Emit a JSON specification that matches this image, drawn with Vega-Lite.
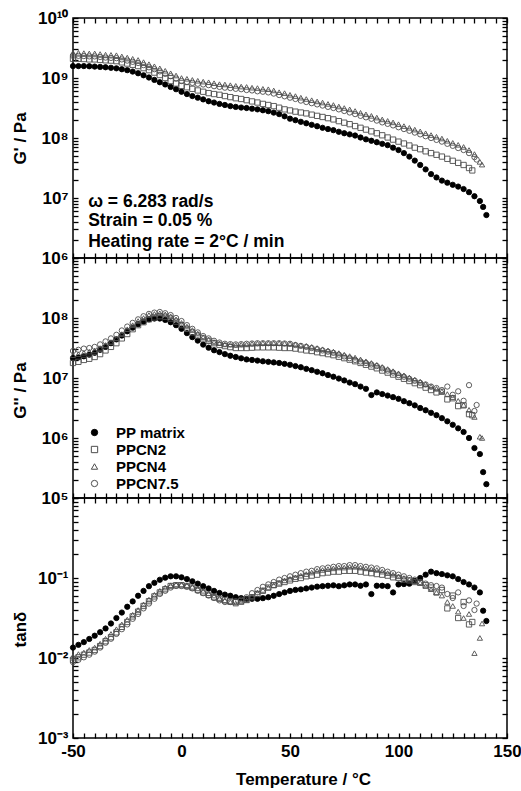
{
"$schema": "https://vega.github.io/schema/vega-lite/v6.json",
"padding": {"left": 10, "top": 8, "right": 5, "bottom": 5},
"background": "white",
"config": {
  "font": "Liberation Sans",
  "view": {"stroke": "black", "strokeWidth": 1.5},
  "axis": {"domain": false, "offset": -5, "ticks": true, "tickSize": 5, "tickColor": "black", "tickWidth": 1.3, "labelPadding": 5, "labelColor": "black", "titleColor": "black", "labelFont": "Liberation Sans", "titleFont": "Liberation Sans", "labelFontWeight": "bold", "titleFontWeight": "bold", "labelFontSize": 17, "titleFontSize": 17, "grid": false, "labelOverlap": false, "labelFlush": false, "labelBound": false}
},
"datasets": {
"ann": [
 {"T": -43, "v": 8.6e6, "t": "ω = 6.283 rad/s"},
 {"T": -43, "v": 4.1e6, "t": "Strain = 0.05 %"},
 {"T": -43, "v": 1.85e6, "t": "Heating rate = 2°C / min"}
],
"d": [
{"s":"PP matrix","T":-50,"gp":1.58e9,"gpp":2.14e7,"td":0.0135},
{"s":"PP matrix","T":-47.5,"gp":1.58e9,"gpp":2.2e7,"td":0.0146},
{"s":"PP matrix","T":-45,"gp":1.58e9,"gpp":2.3e7,"td":0.0158},
{"s":"PP matrix","T":-42.5,"gp":1.57e9,"gpp":2.45e7,"td":0.0173},
{"s":"PP matrix","T":-40,"gp":1.55e9,"gpp":2.63e7,"td":0.019},
{"s":"PP matrix","T":-37.5,"gp":1.53e9,"gpp":2.95e7,"td":0.021},
{"s":"PP matrix","T":-35,"gp":1.51e9,"gpp":3.3e7,"td":0.0234},
{"s":"PP matrix","T":-32.5,"gp":1.48e9,"gpp":3.8e7,"td":0.027},
{"s":"PP matrix","T":-30,"gp":1.45e9,"gpp":4.4e7,"td":0.0316},
{"s":"PP matrix","T":-27.5,"gp":1.4e9,"gpp":5.1e7,"td":0.037},
{"s":"PP matrix","T":-25,"gp":1.35e9,"gpp":6.0e7,"td":0.0437},
{"s":"PP matrix","T":-22.5,"gp":1.28e9,"gpp":6.9e7,"td":0.051},
{"s":"PP matrix","T":-20,"gp":1.2e9,"gpp":7.9e7,"td":0.060},
{"s":"PP matrix","T":-17.5,"gp":1.11e9,"gpp":8.7e7,"td":0.069},
{"s":"PP matrix","T":-15,"gp":1.02e9,"gpp":9.5e7,"td":0.079},
{"s":"PP matrix","T":-12.5,"gp":9.3e8,"gpp":9.8e7,"td":0.087},
{"s":"PP matrix","T":-10,"gp":8.5e8,"gpp":9.8e7,"td":0.095},
{"s":"PP matrix","T":-7.5,"gp":7.8e8,"gpp":9.3e7,"td":0.101},
{"s":"PP matrix","T":-5,"gp":7.1e8,"gpp":8.5e7,"td":0.105},
{"s":"PP matrix","T":-2.5,"gp":6.5e8,"gpp":7.6e7,"td":0.105},
{"s":"PP matrix","T":0,"gp":5.9e8,"gpp":6.6e7,"td":0.102},
{"s":"PP matrix","T":2.5,"gp":5.4e8,"gpp":5.6e7,"td":0.097},
{"s":"PP matrix","T":5,"gp":5.0e8,"gpp":4.8e7,"td":0.091},
{"s":"PP matrix","T":7.5,"gp":4.7e8,"gpp":4.2e7,"td":0.085},
{"s":"PP matrix","T":10,"gp":4.4e8,"gpp":3.6e7,"td":0.079},
{"s":"PP matrix","T":12.5,"gp":4.1e8,"gpp":3.2e7,"td":0.074},
{"s":"PP matrix","T":15,"gp":3.9e8,"gpp":2.9e7,"td":0.069},
{"s":"PP matrix","T":17.5,"gp":3.7e8,"gpp":2.7e7,"td":0.065},
{"s":"PP matrix","T":20,"gp":3.55e8,"gpp":2.5e7,"td":0.062},
{"s":"PP matrix","T":22.5,"gp":3.4e8,"gpp":2.35e7,"td":0.060},
{"s":"PP matrix","T":25,"gp":3.3e8,"gpp":2.24e7,"td":0.0575},
{"s":"PP matrix","T":27.5,"gp":3.22e8,"gpp":2.13e7,"td":0.056},
{"s":"PP matrix","T":30,"gp":3.16e8,"gpp":2.04e7,"td":0.055},
{"s":"PP matrix","T":32.5,"gp":3.08e8,"gpp":2.0e7,"td":0.055},
{"s":"PP matrix","T":35,"gp":3.0e8,"gpp":1.95e7,"td":0.055},
{"s":"PP matrix","T":37.5,"gp":2.9e8,"gpp":1.9e7,"td":0.056},
{"s":"PP matrix","T":40,"gp":2.8e8,"gpp":1.86e7,"td":0.0575},
{"s":"PP matrix","T":42.5,"gp":2.65e8,"gpp":1.82e7,"td":0.060},
{"s":"PP matrix","T":45,"gp":2.5e8,"gpp":1.78e7,"td":0.063},
{"s":"PP matrix","T":47.5,"gp":2.3e8,"gpp":1.72e7,"td":0.066},
{"s":"PP matrix","T":50,"gp":2.1e8,"gpp":1.66e7,"td":0.069},
{"s":"PP matrix","T":52.5,"gp":1.98e8,"gpp":1.58e7,"td":0.071},
{"s":"PP matrix","T":55,"gp":1.86e8,"gpp":1.51e7,"td":0.072},
{"s":"PP matrix","T":57.5,"gp":1.76e8,"gpp":1.42e7,"td":0.074},
{"s":"PP matrix","T":60,"gp":1.66e8,"gpp":1.35e7,"td":0.076},
{"s":"PP matrix","T":62.5,"gp":1.57e8,"gpp":1.27e7,"td":0.078},
{"s":"PP matrix","T":65,"gp":1.48e8,"gpp":1.2e7,"td":0.079},
{"s":"PP matrix","T":67.5,"gp":1.41e8,"gpp":1.12e7,"td":0.080},
{"s":"PP matrix","T":70,"gp":1.35e8,"gpp":1.05e7,"td":0.081},
{"s":"PP matrix","T":72.5,"gp":1.27e8,"gpp":9.8e6,"td":0.079},
{"s":"PP matrix","T":75,"gp":1.2e8,"gpp":9.1e6,"td":0.081},
{"s":"PP matrix","T":77.5,"gp":1.15e8,"gpp":8.4e6,"td":0.083},
{"s":"PP matrix","T":80,"gp":1.1e8,"gpp":7.9e6,"td":0.083},
{"s":"PP matrix","T":82.5,"gp":1.02e8,"gpp":7.2e6,"td":0.080},
{"s":"PP matrix","T":85,"gp":9.5e7,"gpp":6.6e6,"td":0.083},
{"s":"PP matrix","T":87.5,"gp":9.0e7,"gpp":5.2e6,"td":0.063},
{"s":"PP matrix","T":90,"gp":8.5e7,"gpp":5.75e6,"td":0.080},
{"s":"PP matrix","T":92.5,"gp":8.0e7,"gpp":5.4e6,"td":0.080},
{"s":"PP matrix","T":95,"gp":7.6e7,"gpp":5.1e6,"td":0.079},
{"s":"PP matrix","T":97.5,"gp":6.9e7,"gpp":4.8e6,"td":0.066},
{"s":"PP matrix","T":100,"gp":6.3e7,"gpp":4.5e6,"td":0.083},
{"s":"PP matrix","T":102.5,"gp":5.6e7,"gpp":4.1e6,"td":0.084},
{"s":"PP matrix","T":105,"gp":4.9e7,"gpp":3.8e6,"td":0.085},
{"s":"PP matrix","T":107.5,"gp":4.2e7,"gpp":3.5e6,"td":0.092},
{"s":"PP matrix","T":110,"gp":3.55e7,"gpp":3.16e6,"td":0.100},
{"s":"PP matrix","T":112.5,"gp":3.0e7,"gpp":2.9e6,"td":0.110},
{"s":"PP matrix","T":115,"gp":2.5e7,"gpp":2.63e6,"td":0.120},
{"s":"PP matrix","T":117.5,"gp":2.2e7,"gpp":2.4e6,"td":0.115},
{"s":"PP matrix","T":120,"gp":1.95e7,"gpp":2.14e6,"td":0.112},
{"s":"PP matrix","T":122.5,"gp":1.8e7,"gpp":1.9e6,"td":0.108},
{"s":"PP matrix","T":125,"gp":1.66e7,"gpp":1.66e6,"td":0.105},
{"s":"PP matrix","T":127.5,"gp":1.55e7,"gpp":1.45e6,"td":0.097},
{"s":"PP matrix","T":130,"gp":1.41e7,"gpp":1.26e6,"td":0.089},
{"s":"PP matrix","T":132.5,"gp":1.25e7,"gpp":1.0e6,"td":0.083},
{"s":"PP matrix","T":135,"gp":1.07e7,"gpp":6.8e5,"td":0.076},
{"s":"PP matrix","T":137.5,"gp":8.9e6,"gpp":5.4e5,"td":0.066},
{"s":"PP matrix","T":139,"gp":7.1e6,"gpp":2.7e5,"td":0.039},
{"s":"PP matrix","T":140.5,"gp":5.2e6,"gpp":1.7e5,"td":0.029},
{"s":"PPCN2","T":-50,"gp":2.09e9,"gpp":1.78e7,"td":0.0095},
{"s":"PPCN2","T":-47.5,"gp":2.09e9,"gpp":1.86e7,"td":0.0102},
{"s":"PPCN2","T":-45,"gp":2.07e9,"gpp":2.0e7,"td":0.011},
{"s":"PPCN2","T":-42.5,"gp":2.04e9,"gpp":2.09e7,"td":0.0117},
{"s":"PPCN2","T":-40,"gp":2.04e9,"gpp":2.24e7,"td":0.0126},
{"s":"PPCN2","T":-37.5,"gp":2.0e9,"gpp":2.5e7,"td":0.0141},
{"s":"PPCN2","T":-35,"gp":1.97e9,"gpp":2.88e7,"td":0.0162},
{"s":"PPCN2","T":-32.5,"gp":1.95e9,"gpp":3.3e7,"td":0.0182},
{"s":"PPCN2","T":-30,"gp":1.91e9,"gpp":3.8e7,"td":0.0209},
{"s":"PPCN2","T":-27.5,"gp":1.82e9,"gpp":4.57e7,"td":0.0245},
{"s":"PPCN2","T":-25,"gp":1.74e9,"gpp":5.4e7,"td":0.0282},
{"s":"PPCN2","T":-22.5,"gp":1.66e9,"gpp":6.5e7,"td":0.0331},
{"s":"PPCN2","T":-20,"gp":1.58e9,"gpp":7.6e7,"td":0.038},
{"s":"PPCN2","T":-17.5,"gp":1.46e9,"gpp":8.5e7,"td":0.0447},
{"s":"PPCN2","T":-15,"gp":1.35e9,"gpp":9.5e7,"td":0.0513},
{"s":"PPCN2","T":-12.5,"gp":1.23e9,"gpp":1.02e8,"td":0.0589},
{"s":"PPCN2","T":-10,"gp":1.12e9,"gpp":1.07e8,"td":0.066},
{"s":"PPCN2","T":-7.5,"gp":1.0e9,"gpp":1.05e8,"td":0.0724},
{"s":"PPCN2","T":-5,"gp":8.9e8,"gpp":9.8e7,"td":0.0794},
{"s":"PPCN2","T":-2.5,"gp":8.1e8,"gpp":8.7e7,"td":0.0813},
{"s":"PPCN2","T":0,"gp":7.4e8,"gpp":7.6e7,"td":0.0813},
{"s":"PPCN2","T":2.5,"gp":7.0e8,"gpp":6.6e7,"td":0.0794},
{"s":"PPCN2","T":5,"gp":6.6e8,"gpp":5.75e7,"td":0.0759},
{"s":"PPCN2","T":7.5,"gp":6.2e8,"gpp":5.1e7,"td":0.0708},
{"s":"PPCN2","T":10,"gp":5.9e8,"gpp":4.57e7,"td":0.066},
{"s":"PPCN2","T":12.5,"gp":5.6e8,"gpp":4.17e7,"td":0.0617},
{"s":"PPCN2","T":15,"gp":5.4e8,"gpp":3.8e7,"td":0.0575},
{"s":"PPCN2","T":17.5,"gp":5.25e8,"gpp":3.55e7,"td":0.055},
{"s":"PPCN2","T":20,"gp":5.0e8,"gpp":3.4e7,"td":0.0525},
{"s":"PPCN2","T":22.5,"gp":4.8e8,"gpp":3.27e7,"td":0.0513},
{"s":"PPCN2","T":25,"gp":4.6e8,"gpp":3.16e7,"td":0.0501},
{"s":"PPCN2","T":27.5,"gp":4.47e8,"gpp":3.16e7,"td":0.0513},
{"s":"PPCN2","T":30,"gp":4.27e8,"gpp":3.16e7,"td":0.0537},
{"s":"PPCN2","T":32.5,"gp":4.07e8,"gpp":3.2e7,"td":0.0575},
{"s":"PPCN2","T":35,"gp":3.9e8,"gpp":3.24e7,"td":0.0631},
{"s":"PPCN2","T":37.5,"gp":3.7e8,"gpp":3.24e7,"td":0.0692},
{"s":"PPCN2","T":40,"gp":3.55e8,"gpp":3.24e7,"td":0.0759},
{"s":"PPCN2","T":42.5,"gp":3.4e8,"gpp":3.24e7,"td":0.0813},
{"s":"PPCN2","T":45,"gp":3.2e8,"gpp":3.2e7,"td":0.0851},
{"s":"PPCN2","T":47.5,"gp":3.0e8,"gpp":3.16e7,"td":0.0891},
{"s":"PPCN2","T":50,"gp":2.88e8,"gpp":3.16e7,"td":0.0933},
{"s":"PPCN2","T":52.5,"gp":2.75e8,"gpp":3.09e7,"td":0.0977},
{"s":"PPCN2","T":55,"gp":2.66e8,"gpp":2.99e7,"td":0.1},
{"s":"PPCN2","T":57.5,"gp":2.57e8,"gpp":2.88e7,"td":0.105},
{"s":"PPCN2","T":60,"gp":2.45e8,"gpp":2.82e7,"td":0.107},
{"s":"PPCN2","T":62.5,"gp":2.34e8,"gpp":2.69e7,"td":0.11},
{"s":"PPCN2","T":65,"gp":2.24e8,"gpp":2.6e7,"td":0.115},
{"s":"PPCN2","T":67.5,"gp":2.14e8,"gpp":2.5e7,"td":0.117},
{"s":"PPCN2","T":70,"gp":2.04e8,"gpp":2.4e7,"td":0.12},
{"s":"PPCN2","T":72.5,"gp":1.91e8,"gpp":2.26e7,"td":0.12},
{"s":"PPCN2","T":75,"gp":1.8e8,"gpp":2.14e7,"td":0.123},
{"s":"PPCN2","T":77.5,"gp":1.7e8,"gpp":2.02e7,"td":0.123},
{"s":"PPCN2","T":80,"gp":1.58e8,"gpp":1.9e7,"td":0.123},
{"s":"PPCN2","T":82.5,"gp":1.48e8,"gpp":1.78e7,"td":0.12},
{"s":"PPCN2","T":85,"gp":1.38e8,"gpp":1.66e7,"td":0.117},
{"s":"PPCN2","T":87.5,"gp":1.29e8,"gpp":1.55e7,"td":0.115},
{"s":"PPCN2","T":90,"gp":1.2e8,"gpp":1.45e7,"td":0.112},
{"s":"PPCN2","T":92.5,"gp":1.11e8,"gpp":1.33e7,"td":0.11},
{"s":"PPCN2","T":95,"gp":1.02e8,"gpp":1.23e7,"td":0.107},
{"s":"PPCN2","T":97.5,"gp":9.4e7,"gpp":1.14e7,"td":0.102},
{"s":"PPCN2","T":100,"gp":8.7e7,"gpp":1.05e7,"td":0.1},
{"s":"PPCN2","T":102.5,"gp":8.1e7,"gpp":9.7e6,"td":0.0955},
{"s":"PPCN2","T":105,"gp":7.5e7,"gpp":8.9e6,"td":0.0933},
{"s":"PPCN2","T":107.5,"gp":6.9e7,"gpp":8.2e6,"td":0.0891},
{"s":"PPCN2","T":110,"gp":6.5e7,"gpp":7.6e6,"td":0.0871},
{"s":"PPCN2","T":112.5,"gp":6.0e7,"gpp":6.9e6,"td":0.0813},
{"s":"PPCN2","T":115,"gp":5.6e7,"gpp":6.3e6,"td":0.0759},
{"s":"PPCN2","T":117.5,"gp":5.25e7,"gpp":5.75e6,"td":0.066},
{"s":"PPCN2","T":120,"gp":4.9e7,"gpp":5.9e6,"td":0.0708},
{"s":"PPCN2","T":122.5,"gp":4.5e7,"gpp":4.4e6,"td":0.0417},
{"s":"PPCN2","T":125,"gp":4.17e7,"gpp":4.6e6,"td":0.0603},
{"s":"PPCN2","T":127.5,"gp":3.85e7,"gpp":3.4e6,"td":0.0316},
{"s":"PPCN2","T":130,"gp":3.55e7,"gpp":3.5e6,"td":0.0501},
{"s":"PPCN2","T":132.5,"gp":3.16e7,"gpp":2.5e6,"td":0.0263},
{"s":"PPCN2","T":134,"gp":2.88e7,"gpp":2.4e6,"td":0.0282},
{"s":"PPCN4","T":-50,"gp":2.63e9,"gpp":2.4e7,"td":0.0105},
{"s":"PPCN4","T":-47.5,"gp":2.63e9,"gpp":2.5e7,"td":0.0112},
{"s":"PPCN4","T":-45,"gp":2.6e9,"gpp":2.63e7,"td":0.0117},
{"s":"PPCN4","T":-42.5,"gp":2.57e9,"gpp":2.75e7,"td":0.0126},
{"s":"PPCN4","T":-40,"gp":2.57e9,"gpp":2.88e7,"td":0.0135},
{"s":"PPCN4","T":-37.5,"gp":2.51e9,"gpp":3.16e7,"td":0.0151},
{"s":"PPCN4","T":-35,"gp":2.45e9,"gpp":3.55e7,"td":0.0174},
{"s":"PPCN4","T":-32.5,"gp":2.43e9,"gpp":3.98e7,"td":0.02},
{"s":"PPCN4","T":-30,"gp":2.4e9,"gpp":4.57e7,"td":0.0229},
{"s":"PPCN4","T":-27.5,"gp":2.29e9,"gpp":5.4e7,"td":0.0263},
{"s":"PPCN4","T":-25,"gp":2.19e9,"gpp":6.5e7,"td":0.0302},
{"s":"PPCN4","T":-22.5,"gp":2.09e9,"gpp":7.6e7,"td":0.0347},
{"s":"PPCN4","T":-20,"gp":2.0e9,"gpp":8.9e7,"td":0.0398},
{"s":"PPCN4","T":-17.5,"gp":1.84e9,"gpp":1.0e8,"td":0.0468},
{"s":"PPCN4","T":-15,"gp":1.7e9,"gpp":1.12e8,"td":0.0537},
{"s":"PPCN4","T":-12.5,"gp":1.57e9,"gpp":1.17e8,"td":0.0617},
{"s":"PPCN4","T":-10,"gp":1.45e9,"gpp":1.2e8,"td":0.0692},
{"s":"PPCN4","T":-7.5,"gp":1.32e9,"gpp":1.15e8,"td":0.0759},
{"s":"PPCN4","T":-5,"gp":1.2e9,"gpp":1.07e8,"td":0.0813},
{"s":"PPCN4","T":-2.5,"gp":1.1e9,"gpp":9.5e7,"td":0.0832},
{"s":"PPCN4","T":0,"gp":1.0e9,"gpp":8.3e7,"td":0.0832},
{"s":"PPCN4","T":2.5,"gp":9.7e8,"gpp":7.2e7,"td":0.0813},
{"s":"PPCN4","T":5,"gp":9.3e8,"gpp":6.3e7,"td":0.0776},
{"s":"PPCN4","T":7.5,"gp":9.0e8,"gpp":5.5e7,"td":0.0741},
{"s":"PPCN4","T":10,"gp":8.7e8,"gpp":4.8e7,"td":0.0692},
{"s":"PPCN4","T":12.5,"gp":8.5e8,"gpp":4.37e7,"td":0.0646},
{"s":"PPCN4","T":15,"gp":8.2e8,"gpp":3.98e7,"td":0.0603},
{"s":"PPCN4","T":17.5,"gp":7.9e8,"gpp":3.8e7,"td":0.0562},
{"s":"PPCN4","T":20,"gp":7.8e8,"gpp":3.63e7,"td":0.0525},
{"s":"PPCN4","T":22.5,"gp":7.6e8,"gpp":3.6e7,"td":0.0501},
{"s":"PPCN4","T":25,"gp":7.4e8,"gpp":3.55e7,"td":0.0479},
{"s":"PPCN4","T":27.5,"gp":7.2e8,"gpp":3.6e7,"td":0.0501},
{"s":"PPCN4","T":30,"gp":7.1e8,"gpp":3.63e7,"td":0.0525},
{"s":"PPCN4","T":32.5,"gp":6.9e8,"gpp":3.72e7,"td":0.0589},
{"s":"PPCN4","T":35,"gp":6.8e8,"gpp":3.76e7,"td":0.066},
{"s":"PPCN4","T":37.5,"gp":6.6e8,"gpp":3.8e7,"td":0.0708},
{"s":"PPCN4","T":40,"gp":6.5e8,"gpp":3.8e7,"td":0.0759},
{"s":"PPCN4","T":42.5,"gp":6.2e8,"gpp":3.8e7,"td":0.0813},
{"s":"PPCN4","T":45,"gp":5.8e8,"gpp":3.8e7,"td":0.0871},
{"s":"PPCN4","T":47.5,"gp":5.6e8,"gpp":3.76e7,"td":0.0933},
{"s":"PPCN4","T":50,"gp":5.25e8,"gpp":3.72e7,"td":0.0977},
{"s":"PPCN4","T":52.5,"gp":5.0e8,"gpp":3.63e7,"td":0.102},
{"s":"PPCN4","T":55,"gp":4.7e8,"gpp":3.5e7,"td":0.107},
{"s":"PPCN4","T":57.5,"gp":4.47e8,"gpp":3.43e7,"td":0.112},
{"s":"PPCN4","T":60,"gp":4.27e8,"gpp":3.3e7,"td":0.117},
{"s":"PPCN4","T":62.5,"gp":4.07e8,"gpp":3.16e7,"td":0.123},
{"s":"PPCN4","T":65,"gp":3.9e8,"gpp":3.02e7,"td":0.126},
{"s":"PPCN4","T":67.5,"gp":3.7e8,"gpp":2.88e7,"td":0.129},
{"s":"PPCN4","T":70,"gp":3.55e8,"gpp":2.75e7,"td":0.132},
{"s":"PPCN4","T":72.5,"gp":3.35e8,"gpp":2.6e7,"td":0.135},
{"s":"PPCN4","T":75,"gp":3.16e8,"gpp":2.45e7,"td":0.135},
{"s":"PPCN4","T":77.5,"gp":3.0e8,"gpp":2.32e7,"td":0.138},
{"s":"PPCN4","T":80,"gp":2.82e8,"gpp":2.19e7,"td":0.138},
{"s":"PPCN4","T":82.5,"gp":2.63e8,"gpp":2.04e7,"td":0.135},
{"s":"PPCN4","T":85,"gp":2.48e8,"gpp":1.9e7,"td":0.132},
{"s":"PPCN4","T":87.5,"gp":2.34e8,"gpp":1.78e7,"td":0.129},
{"s":"PPCN4","T":90,"gp":2.19e8,"gpp":1.66e7,"td":0.126},
{"s":"PPCN4","T":92.5,"gp":2.04e8,"gpp":1.53e7,"td":0.12},
{"s":"PPCN4","T":95,"gp":1.93e8,"gpp":1.41e7,"td":0.115},
{"s":"PPCN4","T":97.5,"gp":1.82e8,"gpp":1.3e7,"td":0.11},
{"s":"PPCN4","T":100,"gp":1.7e8,"gpp":1.2e7,"td":0.105},
{"s":"PPCN4","T":102.5,"gp":1.58e8,"gpp":1.11e7,"td":0.1},
{"s":"PPCN4","T":105,"gp":1.48e8,"gpp":1.02e7,"td":0.0955},
{"s":"PPCN4","T":107.5,"gp":1.38e8,"gpp":9.4e6,"td":0.0912},
{"s":"PPCN4","T":110,"gp":1.29e8,"gpp":8.7e6,"td":0.0871},
{"s":"PPCN4","T":112.5,"gp":1.2e8,"gpp":7.9e6,"td":0.0794},
{"s":"PPCN4","T":115,"gp":1.12e8,"gpp":7.2e6,"td":0.0724},
{"s":"PPCN4","T":117.5,"gp":1.05e8,"gpp":6.6e6,"td":0.066},
{"s":"PPCN4","T":120,"gp":9.8e7,"gpp":6.0e6,"td":0.0603},
{"s":"PPCN4","T":122.5,"gp":9.0e7,"gpp":5.4e6,"td":0.0501},
{"s":"PPCN4","T":125,"gp":8.3e7,"gpp":4.8e6,"td":0.0447},
{"s":"PPCN4","T":127.5,"gp":7.7e7,"gpp":4.17e6,"td":0.038},
{"s":"PPCN4","T":130,"gp":7.1e7,"gpp":3.55e6,"td":0.0316},
{"s":"PPCN4","T":132.5,"gp":6.3e7,"gpp":2.95e6,"td":0.0355},
{"s":"PPCN4","T":135,"gp":5.4e7,"gpp":2.24e6,"td":0.0115},
{"s":"PPCN4","T":137.5,"gp":4.0e7,"gpp":1.05e6,"td":0.0178},
{"s":"PPCN4","T":138.5,"gp":3.6e7,"gpp":1.0e6,"td":0.027},
{"s":"PPCN7.5","T":-50,"gp":2.34e9,"gpp":2.82e7,"td":0.0089},
{"s":"PPCN7.5","T":-47.5,"gp":2.34e9,"gpp":2.95e7,"td":0.0095},
{"s":"PPCN7.5","T":-45,"gp":2.32e9,"gpp":3.09e7,"td":0.0102},
{"s":"PPCN7.5","T":-42.5,"gp":2.29e9,"gpp":3.16e7,"td":0.011},
{"s":"PPCN7.5","T":-40,"gp":2.29e9,"gpp":3.3e7,"td":0.012},
{"s":"PPCN7.5","T":-37.5,"gp":2.24e9,"gpp":3.63e7,"td":0.0135},
{"s":"PPCN7.5","T":-35,"gp":2.19e9,"gpp":4.07e7,"td":0.0155},
{"s":"PPCN7.5","T":-32.5,"gp":2.16e9,"gpp":4.57e7,"td":0.0174},
{"s":"PPCN7.5","T":-30,"gp":2.14e9,"gpp":5.25e7,"td":0.02},
{"s":"PPCN7.5","T":-27.5,"gp":2.04e9,"gpp":6.2e7,"td":0.0229},
{"s":"PPCN7.5","T":-25,"gp":1.95e9,"gpp":7.2e7,"td":0.0263},
{"s":"PPCN7.5","T":-22.5,"gp":1.86e9,"gpp":8.3e7,"td":0.0309},
{"s":"PPCN7.5","T":-20,"gp":1.78e9,"gpp":9.5e7,"td":0.0355},
{"s":"PPCN7.5","T":-17.5,"gp":1.64e9,"gpp":1.07e8,"td":0.0417},
{"s":"PPCN7.5","T":-15,"gp":1.51e9,"gpp":1.17e8,"td":0.0479},
{"s":"PPCN7.5","T":-12.5,"gp":1.4e9,"gpp":1.23e8,"td":0.055},
{"s":"PPCN7.5","T":-10,"gp":1.29e9,"gpp":1.26e8,"td":0.0631},
{"s":"PPCN7.5","T":-7.5,"gp":1.17e9,"gpp":1.2e8,"td":0.0692},
{"s":"PPCN7.5","T":-5,"gp":1.07e9,"gpp":1.12e8,"td":0.0759},
{"s":"PPCN7.5","T":-2.5,"gp":9.8e8,"gpp":1.0e8,"td":0.0794},
{"s":"PPCN7.5","T":0,"gp":8.9e8,"gpp":8.9e7,"td":0.0794},
{"s":"PPCN7.5","T":2.5,"gp":8.6e8,"gpp":7.6e7,"td":0.0776},
{"s":"PPCN7.5","T":5,"gp":8.3e8,"gpp":6.6e7,"td":0.0741},
{"s":"PPCN7.5","T":7.5,"gp":8.0e8,"gpp":5.75e7,"td":0.0692},
{"s":"PPCN7.5","T":10,"gp":7.8e8,"gpp":5.0e7,"td":0.0646},
{"s":"PPCN7.5","T":12.5,"gp":7.6e8,"gpp":4.57e7,"td":0.0603},
{"s":"PPCN7.5","T":15,"gp":7.3e8,"gpp":4.17e7,"td":0.0562},
{"s":"PPCN7.5","T":17.5,"gp":7.1e8,"gpp":3.9e7,"td":0.0525},
{"s":"PPCN7.5","T":20,"gp":6.9e8,"gpp":3.72e7,"td":0.0501},
{"s":"PPCN7.5","T":22.5,"gp":6.8e8,"gpp":3.67e7,"td":0.0501},
{"s":"PPCN7.5","T":25,"gp":6.6e8,"gpp":3.63e7,"td":0.0513},
{"s":"PPCN7.5","T":27.5,"gp":6.5e8,"gpp":3.67e7,"td":0.0537},
{"s":"PPCN7.5","T":30,"gp":6.3e8,"gpp":3.72e7,"td":0.0575},
{"s":"PPCN7.5","T":32.5,"gp":6.2e8,"gpp":3.76e7,"td":0.0646},
{"s":"PPCN7.5","T":35,"gp":6.0e8,"gpp":3.8e7,"td":0.0708},
{"s":"PPCN7.5","T":37.5,"gp":5.9e8,"gpp":3.8e7,"td":0.0776},
{"s":"PPCN7.5","T":40,"gp":5.75e8,"gpp":3.8e7,"td":0.0832},
{"s":"PPCN7.5","T":42.5,"gp":5.5e8,"gpp":3.8e7,"td":0.0891},
{"s":"PPCN7.5","T":45,"gp":5.2e8,"gpp":3.8e7,"td":0.0955},
{"s":"PPCN7.5","T":47.5,"gp":4.95e8,"gpp":3.76e7,"td":0.1},
{"s":"PPCN7.5","T":50,"gp":4.7e8,"gpp":3.72e7,"td":0.105},
{"s":"PPCN7.5","T":52.5,"gp":4.47e8,"gpp":3.55e7,"td":0.11},
{"s":"PPCN7.5","T":55,"gp":4.2e8,"gpp":3.43e7,"td":0.115},
{"s":"PPCN7.5","T":57.5,"gp":3.98e8,"gpp":3.3e7,"td":0.12},
{"s":"PPCN7.5","T":60,"gp":3.8e8,"gpp":3.16e7,"td":0.123},
{"s":"PPCN7.5","T":62.5,"gp":3.63e8,"gpp":3.02e7,"td":0.129},
{"s":"PPCN7.5","T":65,"gp":3.47e8,"gpp":2.88e7,"td":0.132},
{"s":"PPCN7.5","T":67.5,"gp":3.3e8,"gpp":2.75e7,"td":0.135},
{"s":"PPCN7.5","T":70,"gp":3.16e8,"gpp":2.63e7,"td":0.138},
{"s":"PPCN7.5","T":72.5,"gp":3.0e8,"gpp":2.45e7,"td":0.141},
{"s":"PPCN7.5","T":75,"gp":2.82e8,"gpp":2.29e7,"td":0.141},
{"s":"PPCN7.5","T":77.5,"gp":2.66e8,"gpp":2.14e7,"td":0.145},
{"s":"PPCN7.5","T":80,"gp":2.5e8,"gpp":2.0e7,"td":0.145},
{"s":"PPCN7.5","T":82.5,"gp":2.34e8,"gpp":1.88e7,"td":0.141},
{"s":"PPCN7.5","T":85,"gp":2.21e8,"gpp":1.78e7,"td":0.138},
{"s":"PPCN7.5","T":87.5,"gp":2.09e8,"gpp":1.68e7,"td":0.135},
{"s":"PPCN7.5","T":90,"gp":1.95e8,"gpp":1.58e7,"td":0.132},
{"s":"PPCN7.5","T":92.5,"gp":1.82e8,"gpp":1.45e7,"td":0.126},
{"s":"PPCN7.5","T":95,"gp":1.72e8,"gpp":1.33e7,"td":0.12},
{"s":"PPCN7.5","T":97.5,"gp":1.62e8,"gpp":1.23e7,"td":0.115},
{"s":"PPCN7.5","T":100,"gp":1.51e8,"gpp":1.12e7,"td":0.11},
{"s":"PPCN7.5","T":102.5,"gp":1.41e8,"gpp":1.05e7,"td":0.105},
{"s":"PPCN7.5","T":105,"gp":1.32e8,"gpp":9.7e6,"td":0.1},
{"s":"PPCN7.5","T":107.5,"gp":1.23e8,"gpp":9.0e6,"td":0.0955},
{"s":"PPCN7.5","T":110,"gp":1.15e8,"gpp":8.3e6,"td":0.0891},
{"s":"PPCN7.5","T":112.5,"gp":1.07e8,"gpp":7.8e6,"td":0.0851},
{"s":"PPCN7.5","T":115,"gp":1.0e8,"gpp":7.2e6,"td":0.0813},
{"s":"PPCN7.5","T":117.5,"gp":9.3e7,"gpp":6.8e6,"td":0.0794},
{"s":"PPCN7.5","T":120,"gp":8.7e7,"gpp":6.3e6,"td":0.0759},
{"s":"PPCN7.5","T":122.5,"gp":8.0e7,"gpp":7.2e6,"td":0.0631},
{"s":"PPCN7.5","T":125,"gp":7.4e7,"gpp":5.25e6,"td":0.0562},
{"s":"PPCN7.5","T":127.5,"gp":6.8e7,"gpp":6.0e6,"td":0.0661},
{"s":"PPCN7.5","T":130,"gp":6.3e7,"gpp":4.17e6,"td":0.0447},
{"s":"PPCN7.5","T":132.5,"gp":5.6e7,"gpp":7.6e6,"td":0.0525},
{"s":"PPCN7.5","T":135,"gp":4.8e7,"gpp":2.82e6,"td":0.0398},
{"s":"PPCN7.5","T":136,"gp":4.37e7,"gpp":3.55e6,"td":0.0479}
]
},
"spacing": 0,
"bounds": "flush",
"resolve": {
  "scale": {"x": "independent", "y": "independent", "shape": "independent", "fill": "independent", "stroke": "independent"},
  "axis": {"x": "independent", "y": "independent"},
  "legend": {"shape": "independent", "fill": "independent", "stroke": "independent"}
},
"vconcat": [
{
  "width": 434, "height": 240,
  "layer": [
    {
      "data": {"name": "d"},
      "mark": {"type": "point", "size": 28, "strokeWidth": 0.9, "opacity": 1},
      "encoding": {
        "x": {"field": "T", "type": "quantitative", "scale": {"domain": [-50, 150], "nice": false, "zero": false},
          "axis": {"orient": "bottom", "values": [-50,-45,-40,-35,-30,-25,-20,-15,-10,-5,0,5,10,15,20,25,30,35,40,45,50,55,60,65,70,75,80,85,90,95,100,105,110,115,120,125,130,135,140,145,150], "labels": false, "title": null}},
        "y": {"field": "gp", "type": "quantitative", "scale": {"type": "log", "domain": [1e6, 1e10]},
          "axis": {"orient": "left", "values": [1e6,2e6,3e6,4e6,5e6,6e6,7e6,8e6,9e6,1e7,2e7,3e7,4e7,5e7,6e7,7e7,8e7,9e7,1e8,2e8,3e8,4e8,5e8,6e8,7e8,8e8,9e8,1e9,2e9,3e9,4e9,5e9,6e9,7e9,8e9,9e9,1e10],
            "labelExpr": "datum.value==1e10?'10¹⁰':datum.value==1e9?'10⁹':datum.value==1e8?'10⁸':datum.value==1e7?'10⁷':datum.value==1e6?'10⁶':''",
            "title": "G' / Pa", "titleX": -49, "titleY": 120, "titleAngle": -90, "titleBaseline": "bottom", "titleAlign": "center"}},
        "shape": {"field": "s", "type": "nominal", "scale": {"domain": ["PP matrix","PPCN2","PPCN4","PPCN7.5"], "range": ["circle","square","triangle-up","circle"]}, "legend": null},
        "fill": {"field": "s", "type": "nominal", "scale": {"domain": ["PP matrix","PPCN2","PPCN4","PPCN7.5"], "range": ["black","transparent","transparent","transparent"]}, "legend": null},
        "stroke": {"field": "s", "type": "nominal", "scale": {"domain": ["PP matrix","PPCN2","PPCN4","PPCN7.5"], "range": ["black","#4d4d4d","#4d4d4d","#4d4d4d"]}, "legend": null}
      }
    },
    {
      "data": {"name": "d"},
      "mark": {"type": "point", "opacity": 0},
      "encoding": {
        "x": {"field": "T", "type": "quantitative", "scale": {"domain": [-50, 150], "nice": false, "zero": false},
          "axis": {"orient": "top", "values": [-50,-45,-40,-35,-30,-25,-20,-15,-10,-5,0,5,10,15,20,25,30,35,40,45,50,55,60,65,70,75,80,85,90,95,100,105,110,115,120,125,130,135,140,145,150], "labels": false, "title": null}},
        "y": {"field": "gp", "type": "quantitative", "scale": {"type": "log", "domain": [1e6, 1e10]},
          "axis": {"orient": "right", "values": [1e6,2e6,3e6,4e6,5e6,6e6,7e6,8e6,9e6,1e7,2e7,3e7,4e7,5e7,6e7,7e7,8e7,9e7,1e8,2e8,3e8,4e8,5e8,6e8,7e8,8e8,9e8,1e9,2e9,3e9,4e9,5e9,6e9,7e9,8e9,9e9,1e10], "labels": false, "title": null}}
      }
    },
    {
      "data": {"name": "ann"},
      "mark": {"type": "text", "align": "left", "baseline": "middle", "fontSize": 17.5, "fontWeight": "bold", "font": "Liberation Sans", "color": "black"},
      "encoding": {
        "x": {"field": "T", "type": "quantitative", "scale": {"domain": [-50, 150], "nice": false, "zero": false}, "axis": null},
        "y": {"field": "v", "type": "quantitative", "scale": {"type": "log", "domain": [1e6, 1e10]}, "axis": null},
        "text": {"field": "t"}
      }
    }
  ],
  "resolve": {"axis": {"x": "independent", "y": "independent"}}
},
{
  "width": 434, "height": 240,
  "layer": [
    {
      "data": {"name": "d"},
      "mark": {"type": "point", "size": 28, "strokeWidth": 0.9, "opacity": 1},
      "encoding": {
        "x": {"field": "T", "type": "quantitative", "scale": {"domain": [-50, 150], "nice": false, "zero": false},
          "axis": {"orient": "bottom", "values": [-50,-45,-40,-35,-30,-25,-20,-15,-10,-5,0,5,10,15,20,25,30,35,40,45,50,55,60,65,70,75,80,85,90,95,100,105,110,115,120,125,130,135,140,145,150], "labels": false, "title": null}},
        "y": {"field": "gpp", "type": "quantitative", "scale": {"type": "log", "domain": [1e5, 1e9]},
          "axis": {"orient": "left", "values": [1e5,2e5,3e5,4e5,5e5,6e5,7e5,8e5,9e5,1e6,2e6,3e6,4e6,5e6,6e6,7e6,8e6,9e6,1e7,2e7,3e7,4e7,5e7,6e7,7e7,8e7,9e7,1e8,2e8,3e8,4e8,5e8,6e8,7e8,8e8,9e8,1e9],
            "labelExpr": "datum.value==1e8?'10⁸':datum.value==1e7?'10⁷':datum.value==1e6?'10⁶':datum.value==1e5?'10⁵':''",
            "title": "G'' / Pa", "titleX": -49, "titleY": 132, "titleAngle": -90, "titleBaseline": "bottom", "titleAlign": "center"}},
        "shape": {"field": "s", "type": "nominal", "scale": {"domain": ["PP matrix","PPCN2","PPCN4","PPCN7.5"], "range": ["circle","square","triangle-up","circle"]},
          "legend": {"orient": "none", "legendX": 14, "legendY": 167, "title": null, "labelFontSize": 15, "labelFontWeight": "bold", "labelFont": "Liberation Sans", "labelColor": "black", "symbolSize": 40, "rowPadding": 1, "padding": 0, "labelOffset": 14, "symbolStrokeWidth": 1}},
        "fill": {"field": "s", "type": "nominal", "scale": {"domain": ["PP matrix","PPCN2","PPCN4","PPCN7.5"], "range": ["black","transparent","transparent","transparent"]},
          "legend": {"orient": "none", "legendX": 14, "legendY": 167, "title": null, "labelFontSize": 15, "labelFontWeight": "bold", "labelFont": "Liberation Sans", "labelColor": "black", "symbolSize": 40, "rowPadding": 1, "padding": 0, "labelOffset": 14, "symbolStrokeWidth": 1}},
        "stroke": {"field": "s", "type": "nominal", "scale": {"domain": ["PP matrix","PPCN2","PPCN4","PPCN7.5"], "range": ["black","#4d4d4d","#4d4d4d","#4d4d4d"]},
          "legend": {"orient": "none", "legendX": 14, "legendY": 167, "title": null, "labelFontSize": 15, "labelFontWeight": "bold", "labelFont": "Liberation Sans", "labelColor": "black", "symbolSize": 40, "rowPadding": 1, "padding": 0, "labelOffset": 14, "symbolStrokeWidth": 1}}
      }
    },
    {
      "data": {"name": "d"},
      "mark": {"type": "point", "opacity": 0},
      "encoding": {
        "x": {"field": "T", "type": "quantitative", "scale": {"domain": [-50, 150], "nice": false, "zero": false},
          "axis": {"orient": "top", "values": [-50,-45,-40,-35,-30,-25,-20,-15,-10,-5,0,5,10,15,20,25,30,35,40,45,50,55,60,65,70,75,80,85,90,95,100,105,110,115,120,125,130,135,140,145,150], "labels": false, "title": null}},
        "y": {"field": "gpp", "type": "quantitative", "scale": {"type": "log", "domain": [1e5, 1e9]},
          "axis": {"orient": "right", "values": [1e5,2e5,3e5,4e5,5e5,6e5,7e5,8e5,9e5,1e6,2e6,3e6,4e6,5e6,6e6,7e6,8e6,9e6,1e7,2e7,3e7,4e7,5e7,6e7,7e7,8e7,9e7,1e8,2e8,3e8,4e8,5e8,6e8,7e8,8e8,9e8,1e9], "labels": false, "title": null}}
      }
    }
  ],
  "resolve": {"axis": {"x": "independent", "y": "independent"}}
},
{
  "width": 434, "height": 240,
  "layer": [
    {
      "data": {"name": "d"},
      "mark": {"type": "point", "size": 28, "strokeWidth": 0.9, "opacity": 1},
      "encoding": {
        "x": {"field": "T", "type": "quantitative", "scale": {"domain": [-50, 150], "nice": false, "zero": false},
          "axis": {"orient": "bottom", "values": [-50,-45,-40,-35,-30,-25,-20,-15,-10,-5,0,5,10,15,20,25,30,35,40,45,50,55,60,65,70,75,80,85,90,95,100,105,110,115,120,125,130,135,140,145,150],
            "labelExpr": "datum.value % 50 === 0 ? '' + datum.value : ''", "labelPadding": 5,
            "title": "Temperature / °C", "titleX": 230, "titleY": 46, "titleBaseline": "middle", "titleAlign": "center"}},
        "y": {"field": "td", "type": "quantitative", "scale": {"type": "log", "domain": [0.001, 1]},
          "axis": {"orient": "left", "values": [0.001,0.002,0.003,0.004,0.005,0.006,0.007,0.008,0.009,0.01,0.02,0.03,0.04,0.05,0.06,0.07,0.08,0.09,0.1,0.2,0.3,0.4,0.5,0.6,0.7,0.8,0.9,1],
            "labelExpr": "datum.value==0.1?'10⁻¹':datum.value==0.01?'10⁻²':datum.value==0.001?'10⁻³':''",
            "title": "tanδ", "titleX": -49, "titleY": 131, "titleAngle": -90, "titleBaseline": "bottom", "titleAlign": "center"}},
        "shape": {"field": "s", "type": "nominal", "scale": {"domain": ["PP matrix","PPCN2","PPCN4","PPCN7.5"], "range": ["circle","square","triangle-up","circle"]}, "legend": null},
        "fill": {"field": "s", "type": "nominal", "scale": {"domain": ["PP matrix","PPCN2","PPCN4","PPCN7.5"], "range": ["black","transparent","transparent","transparent"]}, "legend": null},
        "stroke": {"field": "s", "type": "nominal", "scale": {"domain": ["PP matrix","PPCN2","PPCN4","PPCN7.5"], "range": ["black","#4d4d4d","#4d4d4d","#4d4d4d"]}, "legend": null}
      }
    },
    {
      "data": {"name": "d"},
      "mark": {"type": "point", "opacity": 0},
      "encoding": {
        "x": {"field": "T", "type": "quantitative", "scale": {"domain": [-50, 150], "nice": false, "zero": false},
          "axis": {"orient": "top", "values": [-50,-45,-40,-35,-30,-25,-20,-15,-10,-5,0,5,10,15,20,25,30,35,40,45,50,55,60,65,70,75,80,85,90,95,100,105,110,115,120,125,130,135,140,145,150], "labels": false, "title": null}},
        "y": {"field": "td", "type": "quantitative", "scale": {"type": "log", "domain": [0.001, 1]},
          "axis": {"orient": "right", "values": [0.001,0.002,0.003,0.004,0.005,0.006,0.007,0.008,0.009,0.01,0.02,0.03,0.04,0.05,0.06,0.07,0.08,0.09,0.1,0.2,0.3,0.4,0.5,0.6,0.7,0.8,0.9,1], "labels": false, "title": null}}
      }
    }
  ],
  "resolve": {"axis": {"x": "independent", "y": "independent"}}
}
]
}
